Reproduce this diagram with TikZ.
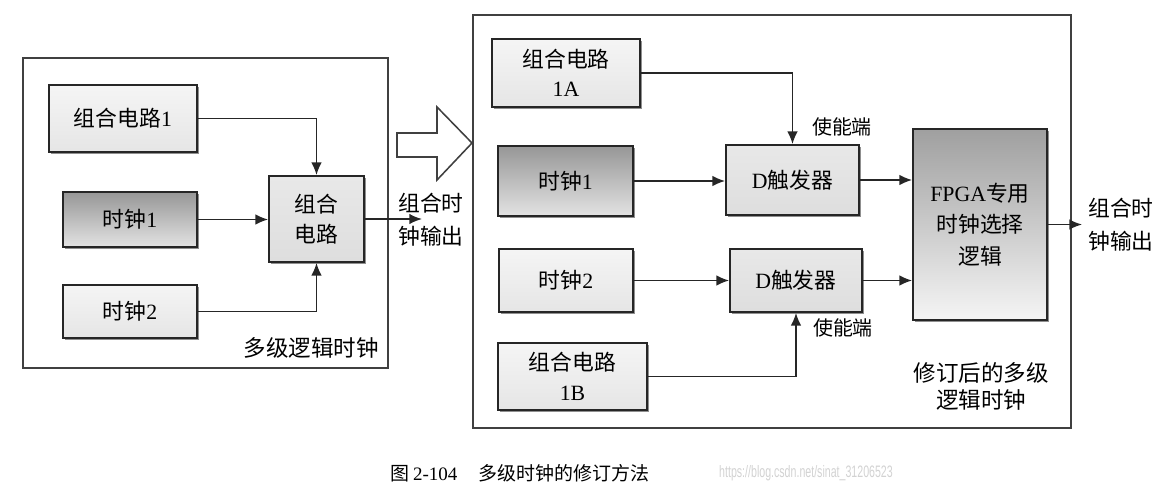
\documentclass[tikz,border=0pt]{standalone}
\usepackage{fontspec}
\setmainfont{Liberation Serif}
\newfontfamily\cjk{Noto Sans CJK SC}
\newfontfamily\wmfont{Liberation Sans}
\usetikzlibrary{arrows.meta,shadows}
\tikzset{
    box/.style={draw=black!85, line width=1.2pt, align=center, inner sep=2pt,
                top color=gray!8, bottom color=gray!20,
                drop shadow={shadow xshift=1.2pt, shadow yshift=-1.2pt,
                             fill=black!55, opacity=0.8},
                font=\fontsize{15.5}{21}\selectfont},
    clkbox/.style={box, top color=gray!82, bottom color=gray!22},
    ffbox/.style={box, top color=gray!18, bottom color=gray!26},
    fpgabox/.style={box, top color=gray!75, bottom color=gray!8},
    frame/.style={draw=black!75, line width=1.1pt},
    flow/.style={-{Latex[length=9pt, width=7.5pt]}, line width=1.2pt, draw=black!85},
    note/.style={font=\fontsize{15.5}{23.4}\selectfont, align=center, inner sep=0pt},
    small/.style={note, font=\fontsize{14.2}{17}\selectfont},
}

\begin{document}
\begin{tikzpicture}[x=0.025cm, y=-0.025cm]

    \useasboundingbox (0,0) rectangle (1176,494);

    \draw[frame] (23,58) rectangle (388,368);
    \draw[frame] (473,15) rectangle (1071,428);
    \draw[frame, fill=white] (397,133) -- (437,133) -- (437,107) -- (472,143)
        -- (437,180) -- (437,157) -- (397,157) -- cycle;

    \node[box, minimum width=3.7cm, minimum height=1.675cm] (combone) at (123,118.5)
        {{\cjk 组合电路}1};
    \node[clkbox, minimum width=3.35cm, minimum height=1.375cm] (clkone) at (130,219.5)
        {{\cjk 时钟}1};
    \node[box, minimum width=3.35cm, minimum height=1.325cm] (clktwo) at (130,311.5)
        {{\cjk 时钟}2};
    \node[ffbox, minimum width=2.375cm, minimum height=2.15cm] (comb) at (316.5,219)
        {{\cjk 组合}\\{\cjk 电路}};
    \coordinate (outone) at (422,219);
    \node[note, font=\cjk\fontsize{15.5}{23.4}\selectfont] (outlabelone) at (431,219.5)
        {组合时\\钟输出};
    \node[note, font=\cjk\fontsize{16}{20}\selectfont] (titleone) at (311,348)
        {多级逻辑时钟};

    \draw[flow] (combone.east) -| (comb.north);
    \draw[flow] (clkone.east) -- (clkone.east -| comb.west);
    \draw[flow] (clktwo.east) -| (comb.south);
    \draw[flow] (comb.east) -- (outone);

    \node[box, minimum width=3.7cm, minimum height=1.7cm] (combA) at (566,73)
        {{\cjk 组合电路}\\1A};
    \node[clkbox, minimum width=3.375cm, minimum height=1.75cm] (clkA) at (565.5,181)
        {{\cjk 时钟}1};
    \node[ffbox, minimum width=3.325cm, minimum height=1.75cm] (dffA) at (792.5,180)
        {D{\cjk 触发器}};
    \node[box, minimum width=3.35cm, minimum height=1.575cm] (clkB) at (566,280.5)
        {{\cjk 时钟}2};
    \node[ffbox, minimum width=3.3cm, minimum height=1.575cm] (dffB) at (796,280.5)
        {D{\cjk 触发器}};
    \node[box, minimum width=3.725cm, minimum height=1.675cm] (combB) at (572.5,376.5)
        {{\cjk 组合电路}\\1B};
    \node[fpgabox, minimum width=3.35cm, minimum height=4.775cm,
          font=\fontsize{15.5}{22.3}\selectfont] (fpga) at (980,224.5)
        {FPGA{\cjk 专用}\\{\cjk 时钟选择}\\{\cjk 逻辑}};
    \coordinate (outtwo) at (1082,224.5);
    \node[note, font=\cjk\fontsize{15.5}{23.4}\selectfont, anchor=west] (outlabeltwo)
        at (1088,224.5) {组合时\\钟输出};
    \node[small, font=\cjk\fontsize{14.2}{17}\selectfont] (enA) at (842,127) {使能端};
    \node[small, font=\cjk\fontsize{14.2}{17}\selectfont] (enB) at (843,328) {使能端};
    \node[note, font=\cjk\fontsize{16}{19}\selectfont] (titletwo) at (981,386.5)
        {修订后的多级\\逻辑时钟};

    \draw[flow] (combA.east) -| (dffA.north);
    \draw[flow] (clkA.east) -- (clkA.east -| dffA.west);
    \draw[flow] (clkB.east) -- (clkB.east -| dffB.west);
    \draw[flow] (combB.east) -| (dffB.south);
    \draw[flow] (dffA.east) -- (dffA.east -| fpga.west);
    \draw[flow] (dffB.east) -- (dffB.east -| fpga.west);
    \draw[flow] (fpga.east) -- (outtwo);

    \node[note, font=\fontsize{13.5}{16}\selectfont] (caption) at (520,473)
        {{\cjk 图}\,2-104\hspace{1.1em}{\cjk 多级时钟的修订方法}};
    \node[note, text=gray!35] (mark) at (806,473)
        {\scalebox{0.64}[1]{\wmfont\fontsize{11.8}{13}\selectfont https://blog.csdn.net/sinat\_31206523}};

\end{tikzpicture}
\end{document}
